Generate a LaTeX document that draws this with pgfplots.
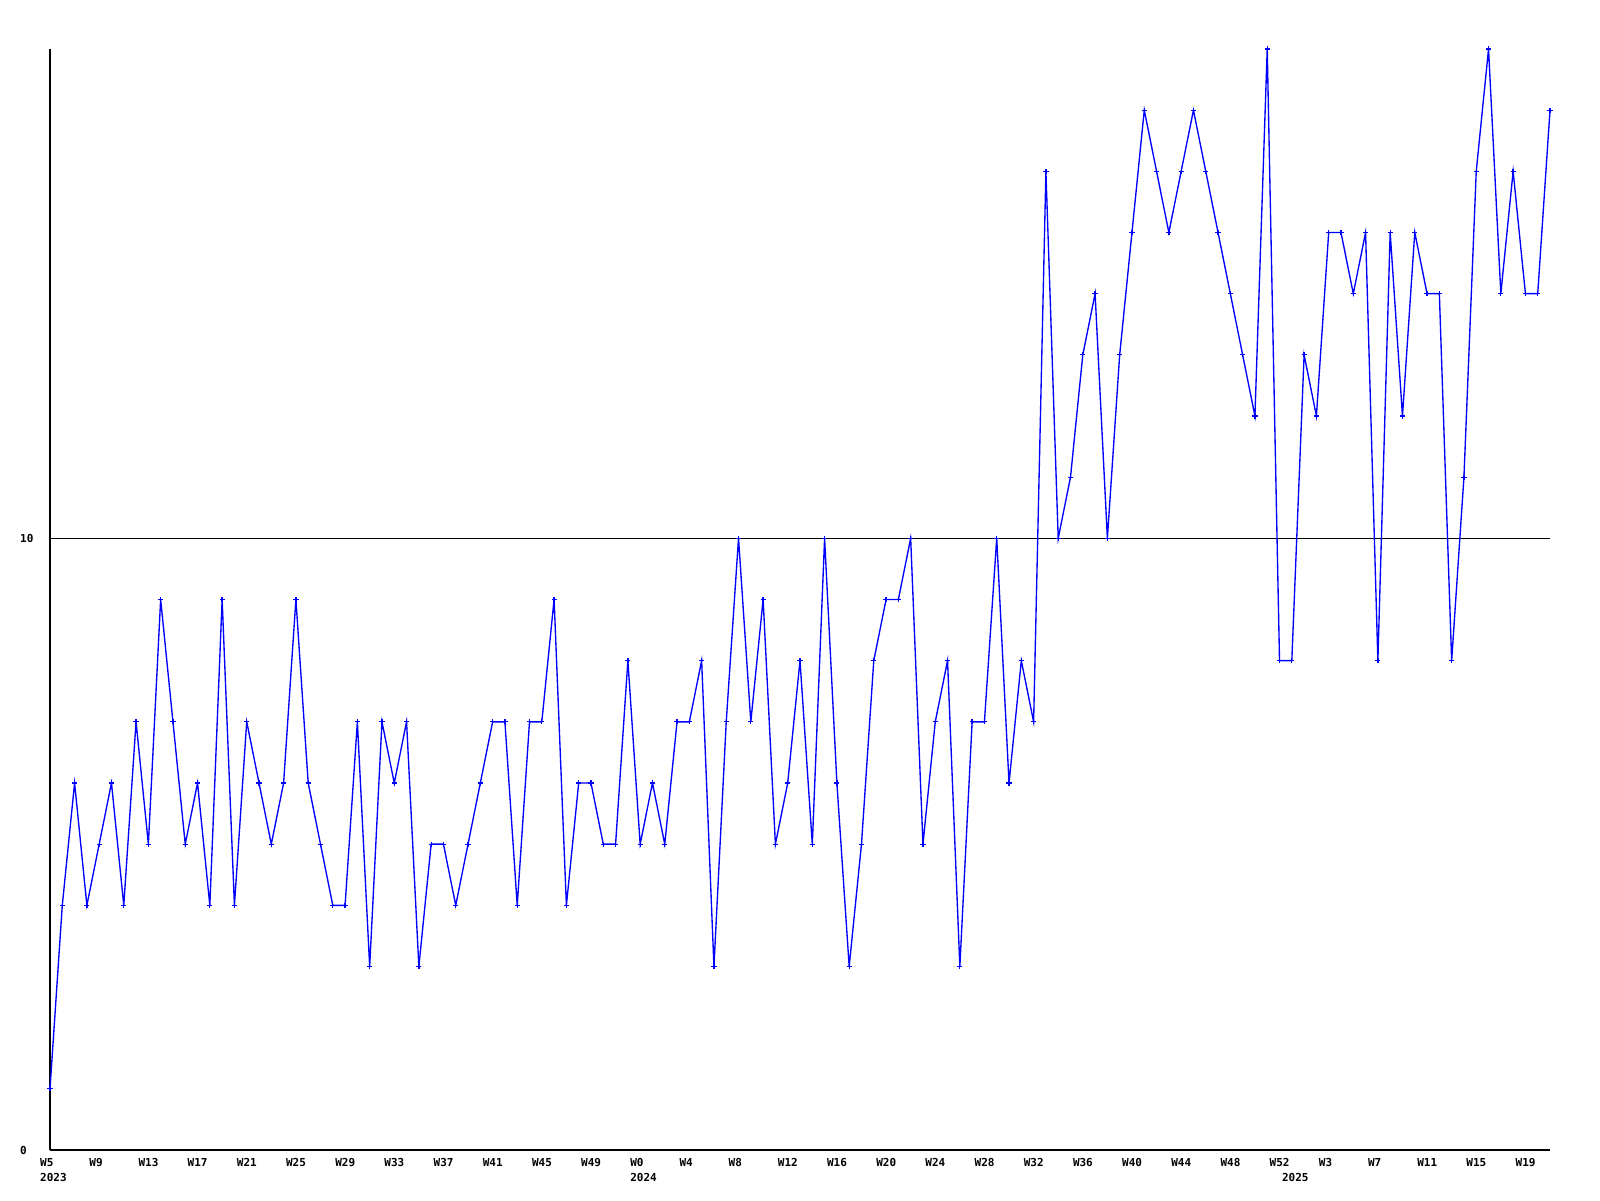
\documentclass[border=0pt]{standalone}
\usepackage{pgfplots}
\pgfplotsset{compat=1.18}
\usepackage{fontspec}
\setmonofont{DejaVu Sans Mono}
\newcommand{\lblfont}{\fontsize{11}{11}\selectfont\ttfamily\bfseries}
\begin{document}
\begin{tikzpicture}
\begin{axis}[
  name=ax, at={(0,0)}, anchor=south west,
  scale only axis, width=1500pt, height=1101pt,
  xmin=0, xmax=122, ymin=0, ymax=18,
  axis x line*=bottom, axis y line*=left,
  axis line style={-, line width=1.2pt, black},
  xtick={0,4,...,120},
  xticklabels={W5,W9,W13,W17,W21,W25,W29,W33,W37,W41,W45,W49,W0,W4,W8,W12,W16,W20,W24,W28,W32,W36,W40,W44,W48,W52,W3,W7,W11,W15,W19},
  ytick={0,10}, yticklabels={0,10},
  ymajorgrids, grid style={black, line width=0.7pt},
  major tick length=0pt,
  tick label style={font=\lblfont},
  xticklabel style={anchor=north west, inner sep=0pt, xshift=-10pt, yshift=-8pt},
  yticklabel style={anchor=west, inner sep=0pt, xshift=-30pt},
  clip=false,
]
\addplot[blue, line width=1.35pt, mark=+, mark size=2.6pt, mark options={line width=1.3pt}] table[x=i, y=v] {
i v
0 1
1 4
2 6
3 4
4 5
5 6
6 4
7 7
8 5
9 9
10 7
11 5
12 6
13 4
14 9
15 4
16 7
17 6
18 5
19 6
20 9
21 6
22 5
23 4
24 4
25 7
26 3
27 7
28 6
29 7
30 3
31 5
32 5
33 4
34 5
35 6
36 7
37 7
38 4
39 7
40 7
41 9
42 4
43 6
44 6
45 5
46 5
47 8
48 5
49 6
50 5
51 7
52 7
53 8
54 3
55 7
56 10
57 7
58 9
59 5
60 6
61 8
62 5
63 10
64 6
65 3
66 5
67 8
68 9
69 9
70 10
71 5
72 7
73 8
74 3
75 7
76 7
77 10
78 6
79 8
80 7
81 16
82 10
83 11
84 13
85 14
86 10
87 13
88 15
89 17
90 16
91 15
92 16
93 17
94 16
95 15
96 14
97 13
98 12
99 18
100 8
101 8
102 13
103 12
104 15
105 15
106 14
107 15
108 8
109 15
110 12
111 15
112 14
113 14
114 8
115 11
116 16
117 18
118 14
119 16
120 14
121 14
122 17
};
\node[anchor=north west, inner sep=0pt, font=\lblfont, xshift=-10pt, yshift=-23pt] at (axis cs:0,0) {2023};
\node[anchor=north west, inner sep=0pt, font=\lblfont, xshift=-10pt, yshift=-23pt] at (axis cs:48,0) {2024};
\node[anchor=north west, inner sep=0pt, font=\lblfont, xshift=-10pt, yshift=-23pt] at (axis cs:101,0) {2025};
\end{axis}
\pgfresetboundingbox
\path[use as bounding box] (-50pt,-50pt) rectangle (1550pt,1150pt);
\end{tikzpicture}
\end{document}
